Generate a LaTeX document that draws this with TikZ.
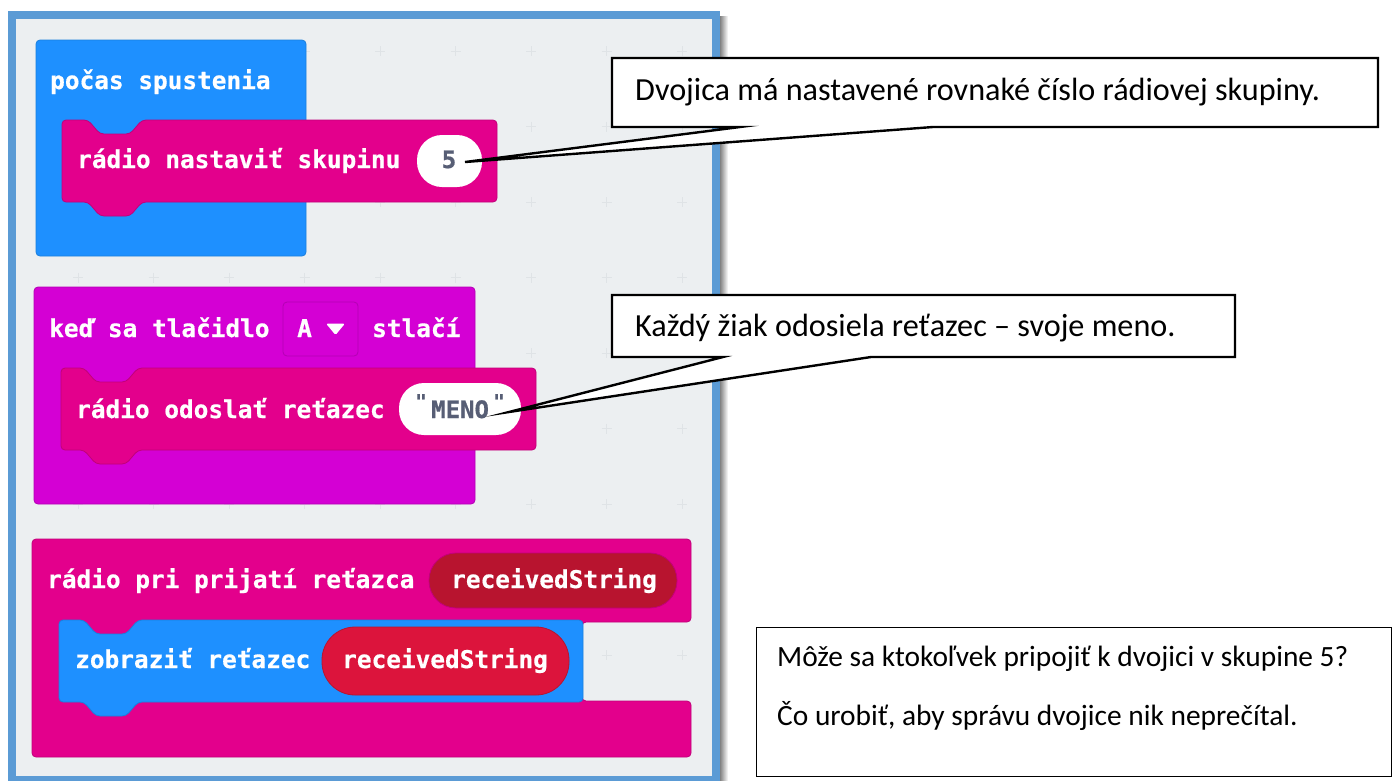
\documentclass[tikz,border=0pt]{standalone}
\usepackage{fontspec}
\setmainfont{Carlito}
\newfontfamily\blockfont{DejaVu Sans Mono}[BoldFont={DejaVu Sans Mono Bold},BoldFeatures={FakeBold=0.6}]
\usetikzlibrary{shadings}
\definecolor{panelblue}{HTML}{5B9BD5}
\definecolor{panelbg}{HTML}{ECEFF1}
\definecolor{gridmark}{HTML}{DFE3E6}
\definecolor{mbblue}{HTML}{1E90FF}
\definecolor{mbblueb}{HTML}{1A7FDD}
\definecolor{mbpink}{HTML}{E3008C}
\definecolor{mbpinkb}{HTML}{C1007A}
\definecolor{mbmag}{HTML}{D400D4}
\definecolor{mbmagb}{HTML}{B400B4}
\definecolor{vardark}{HTML}{B8142F}
\definecolor{varred}{HTML}{DC143C}
\definecolor{valtext}{HTML}{575E75}
\tikzset{
 x=1pt,y=-1pt,
 blk/.style={rounded corners=4pt,line width=0.8pt},
 bluek/.style={blk,fill=mbblue,draw=mbblueb},
 pinkk/.style={blk,fill=mbpink,draw=mbpinkb},
 magk/.style={blk,fill=mbmag,draw=mbmagb},
 btext/.style={anchor=base west,inner sep=0pt,text=white,font=\blockfont\bfseries\fontsize{24.4}{24.4}\selectfont},
 vtext/.style={anchor=base,inner sep=0pt,text=valtext,font=\blockfont\bfseries\fontsize{24}{24}\selectfont},
 qmark/.style={anchor=base,inner sep=0pt,text=valtext,font=\blockfont\bfseries\fontsize{19}{19}\selectfont},
 pillw/.style={fill=white,rounded corners=25pt},
 callout/.style={draw=black,line width=2.4pt,fill=white,miter limit=20},
 ctext/.style={anchor=base west,inner sep=0pt,text=black,font=\fontsize{32.2}{32.2}\selectfont},
 qtext/.style={anchor=base west,inner sep=0pt,text=black,font=\fontsize{29.4}{29.4}\selectfont},
 gm/.style={draw=gridmark,line width=0.8pt},
}
% statement block with notch on top and tab below: style,x1,y1,x2,y2,notch left
\newcommand\stmtblock[6]{%
 \path[#1] (#2,#3) -- (#6,#3) -- (#6+12,#3+14) -- (#6+42,#3+14) -- (#6+54,#3) -- (#4,#3) -- (#4,#5)
  -- (#6+54,#5) -- (#6+42,#5+14) -- (#6+12,#5+14) -- (#6,#5) -- (#2,#5) -- cycle;}
\begin{document}
\begin{tikzpicture}
\useasboundingbox (0,0) rectangle (1392,780);
\fill[white] (0,0) rectangle (1392,780);
% panel shadow
\shade[left color=black!55,right color=white] (719,16) rectangle (728,780);
\fill[panelbg] (12,15) rectangle (716,780);
\draw[panelblue,line width=8pt] (12,15) rectangle (716,780);
% grid marks
\foreach \gx in {78,153.5,229,304.5,380,455.5,531,606.5,682}
 \foreach \gy in {51,126.5,202,277.5,353,428.5,504,579.5,655}
  {\draw[gm] (\gx-5,\gy) -- (\gx+5,\gy) (\gx,\gy-5) -- (\gx,\gy+5);}
% block group 1
\path[bluek] (36,40) rectangle (306,256);
\stmtblock{pinkk}{62}{120}{497}{202}{88}
\path[pillw] (417,135) rectangle (482,187);
\node[btext] (t1) at (50,89) {počas spustenia};
\node[btext] (t2) at (77,168) {rádio nastaviť skupinu};
\node[vtext] (v5) at (449,168) {5};
% block group 2
\path[magk] (34,287) rectangle (475,504);
\path[magk] (283,302) rectangle (358,356);
\stmtblock{pinkk}{61}{368}{536}{450}{84}
\path[pillw] (399,383) rectangle (521,435);
\node[btext] (t3) at (49,337) {keď sa tlačidlo};
\node[btext] (t4) at (297,337) {A};
\path[fill=white,rounded corners=1.5pt] (326,323.5) -- (345,323.5) -- (335.5,335) -- cycle;
\node[btext] (t5) at (372,337) {stlačí};
\node[btext] (t6) at (76,418) {rádio odoslať reťazec};
\node[vtext,anchor=base west] (v6) at (431,418) {MENO};
\node[qmark] (q1) at (421,408) {"};
\node[qmark] (q2) at (499,408) {"};
% block group 3
\path[pinkk] (32,539) -- (691,539) -- (691,622) -- (582,622) -- (582,701) -- (691,701) -- (691,757) -- (32,757) -- cycle;
\path[fill=vardark,draw=mbpinkb,line width=0.8pt,rounded corners=27pt] (429,553) rectangle (677,608);
\stmtblock{bluek}{59}{620}{583}{702}{84}
\path[fill=varred,draw=vardark,line width=0.8pt,rounded corners=33pt] (322,627) rectangle (569,695);
\node[btext] (t7) at (47,588) {rádio pri prijatí reťazca};
\node[btext] (t8) at (451,588) {receivedString};
\node[btext] (t9) at (75,668) {zobraziť reťazec};
\node[btext] (t10) at (342,668) {receivedString};
% callouts
\coordinate (c1a) at (612,58); \coordinate (c1b) at (1378,127);
\coordinate (c1l) at (740,127); \coordinate (c1r) at (933,127);
\coordinate (tip1) at (465,162);
\draw[callout] (c1a) -- (c1a -| c1b) -- (c1b) -- (c1r) -- (tip1) -- (c1l) -- (c1a |- c1b) -- cycle;
\node[ctext] (ct1) at (635,100) {Dvojica má nastavené rovnaké číslo rádiovej skupiny.};
\coordinate (c2a) at (612,295); \coordinate (c2b) at (1235,357);
\coordinate (c2l) at (723,357); \coordinate (c2r) at (871,357);
\coordinate (tip2) at (509,412);
\draw[callout] (c2a) -- (c2a -| c2b) -- (c2b) -- (c2r) -- (tip2) -- (c2l) -- (c2a |- c2b) -- cycle;
\node[ctext] (ct2) at (635,336) {Každý žiak odosiela reťazec -- svoje meno.};
% question box
\path[draw=black,line width=1pt,fill=white] (756,627) rectangle (1391,776);
\node[qtext] (q3) at (777,666) {Môže sa ktokoľvek pripojiť k dvojici v skupine 5?};
\node[qtext] (q4) at (777,725) {Čo urobiť, aby správu dvojice nik neprečítal.};
\end{tikzpicture}
\end{document}
